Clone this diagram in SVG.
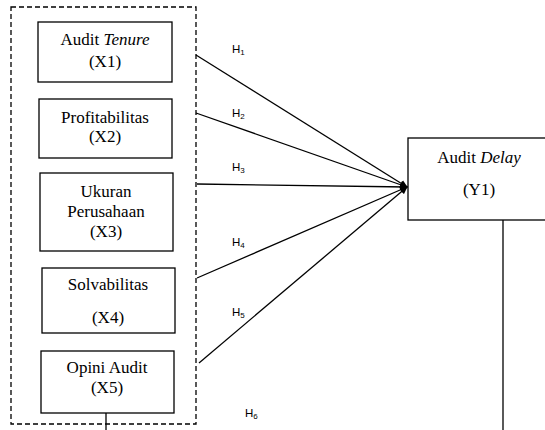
<svg xmlns="http://www.w3.org/2000/svg" width="545" height="430" viewBox="0 0 545 430">
<style>
.box{fill:#fff;stroke:#000;stroke-width:1.3}
.t{font-family:"Liberation Serif","Times New Roman",serif;font-size:17px;fill:#000;text-anchor:middle}
.h{font-family:"Liberation Sans",Arial,sans-serif;font-size:11.5px;fill:#000}
.s{font-size:8px}
.c{stroke:#000;stroke-width:1.3;fill:none}
</style>
<defs>
<marker id="ah" markerWidth="8" markerHeight="8" refX="7" refY="4" orient="auto" markerUnits="userSpaceOnUse">
<path d="M0,0.5 L8,4 L0,7.5 Z" fill="#000"/>
</marker>
</defs>
<rect x="11" y="7" width="185" height="417" fill="none" stroke="#000" stroke-width="1.3" stroke-dasharray="5,3"/>
<g id="x1"><rect class="box" x="38" y="22" width="134" height="60"/><text class="t" x="105" y="45">Audit <tspan font-style="italic">Tenure</tspan></text><text class="t" x="105" y="67">(X1)</text></g>
<g id="x2"><rect class="box" x="39" y="99" width="133" height="59"/><text class="t" x="105" y="123">Profitabilitas</text><text class="t" x="105" y="142">(X2)</text></g>
<g id="x3"><rect class="box" x="40" y="173" width="133" height="78"/><text class="t" x="106" y="197">Ukuran</text><text class="t" x="106" y="217">Perusahaan</text><text class="t" x="106" y="237">(X3)</text></g>
<g id="x4"><rect class="box" x="42" y="268" width="133" height="65"/><text class="t" x="108" y="290">Solvabilitas</text><text class="t" x="108" y="323">(X4)</text></g>
<g id="x5"><rect class="box" x="41" y="351" width="133" height="62"/><text class="t" x="107" y="373">Opini Audit</text><text class="t" x="107" y="393">(X5)</text></g>
<g id="y1"><rect class="box" x="408" y="138" width="140" height="82"/><text class="t" x="479" y="163">Audit <tspan font-style="italic">Delay</tspan></text><text class="t" x="479" y="195">(Y1)</text></g>
<g id="connectors">
<line class="c" x1="196" y1="55" x2="407" y2="187" marker-end="url(#ah)"/>
<line class="c" x1="196" y1="113" x2="407" y2="187" marker-end="url(#ah)"/>
<line class="c" x1="197" y1="184" x2="407" y2="187" marker-end="url(#ah)"/>
<line class="c" x1="197" y1="278" x2="407" y2="187" marker-end="url(#ah)"/>
<line class="c" x1="199" y1="363" x2="407" y2="187" marker-end="url(#ah)"/>
<line class="c" x1="106" y1="413" x2="106" y2="430"/>
<line class="c" x1="503" y1="220" x2="503" y2="430"/>
</g>
<g id="labels">
<text class="h" x="232" y="53">H<tspan class="s" dy="2">1</tspan></text>
<text class="h" x="232" y="117">H<tspan class="s" dy="2">2</tspan></text>
<text class="h" x="232" y="171">H<tspan class="s" dy="2">3</tspan></text>
<text class="h" x="232" y="246">H<tspan class="s" dy="2">4</tspan></text>
<text class="h" x="232" y="316">H<tspan class="s" dy="2">5</tspan></text>
<text class="h" x="245" y="417">H<tspan class="s" dy="2">6</tspan></text>
</g>
</svg>
